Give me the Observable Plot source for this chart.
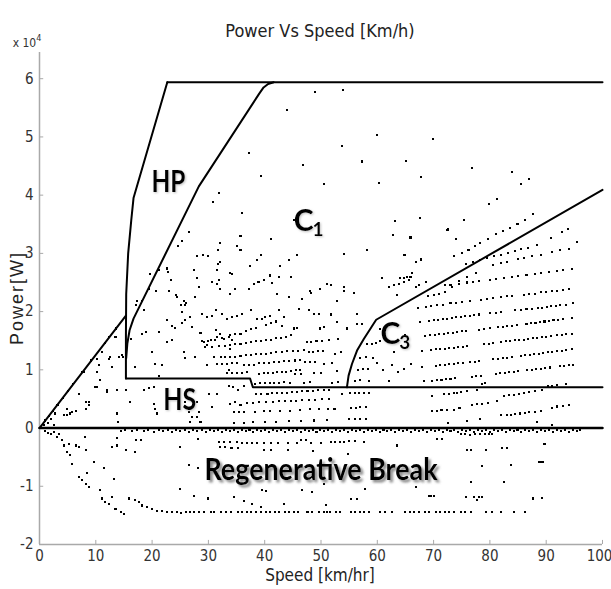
<!DOCTYPE html>
<html><head><meta charset="utf-8">
<script src="https://cdn.jsdelivr.net/npm/d3@7"></script>
<script src="https://cdn.jsdelivr.net/npm/@observablehq/plot@0.6"></script>
<style>body{margin:0;background:#fff}#chart{width:611px;height:589px}</style>
</head><body><div id="chart"></div>
<script>
// ---------- tick labels ----------
const xTicks = [0,10,20,30,40,50,60,70,80,90,100];
const yTicks = [-2,-1,0,1,2,3,4,5,6];   // power in units of 1e4 W

// ---------- region boundary curves [speed km/h, power x1e4 W] ----------
const topBoundary = [[22.7,5.94],[100,5.94]];
const hpBoundary = [[22.7,5.94],[16.7,3.95],[16.3,3.57],[15.75,3.0],[15.4,2.3],[15.35,1.6],[15.35,0.85]];
const c1Boundary = [[41.6,5.94],[40.6,5.91],[39.8,5.85],[39.0,5.74],[28.3,4.15],[16.7,1.88],[16.0,1.68],[15.6,1.45],[15.4,1.2]];
const diagBoundary = [[0,0],[15.35,1.93]];
const hsBoundary = [[15.35,0.85],[37.4,0.85],[37.9,0.70],[100,0.70]];
const zeroBoundary = [[0,0],[100,0]];
const c3Boundary = [[54.6,0.70],[54.9,0.9],[55.5,1.1],[56.4,1.33],[57.6,1.53],[59.0,1.74],[59.8,1.86],[100,4.09]];

// ---------- operating points [speed km/h, power x1e4 W] ----------
const upperPts = [[49.0,5.77],[53.9,5.80],[43.9,5.46],[60.0,5.03],[69.9,4.97],[37.2,4.73],[53.8,4.84],[46.8,4.52],[57.3,4.58],[65.1,4.59],[76.9,4.46],[84.0,4.39],[86.9,4.28],[85.6,4.19],[39.4,4.33],[50.5,4.19],[60.3,4.21],[67.7,4.31],[31.9,4.04],[30.8,3.89],[36.0,3.70],[45.2,3.57],[35.7,3.30],[41.2,3.25],[63.1,3.56],[67.5,3.61],[75.4,3.58],[62.8,3.32],[65.9,3.28],[72.5,3.41],[79.9,3.85],[81.3,3.93],[57.3,4.57],[74.0,3.24],[58.2,3.05],[64.7,2.97],[67.7,2.88],[66.8,2.85],[54.1,2.99],[65.0,2.97],[66.8,2.85],[67.8,2.91],[90.8,3.26],[92.8,3.37],[93.9,3.42],[95.5,3.19]];
const c1Cloud = [[25.3,3.22],[26.5,3.37],[24.6,3.13],[32.1,3.18],[31.7,3.05],[27.9,2.95],[29.1,2.98],[29.9,2.95],[31.7,2.82],[32.1,2.85],[27.4,2.71],[34.2,2.65],[21.2,2.71],[22.6,2.74],[22.9,2.68],[23.3,2.55],[20.7,2.35],[23.0,2.36],[24.5,2.25],[25.6,2.19],[25.8,2.12],[25.3,1.99],[27.6,2.25],[28.3,2.43],[27.9,2.57],[30.7,2.51],[31.6,2.48],[32.1,2.39],[31.6,2.71],[31.8,2.54],[33.9,2.31],[17.4,2.19],[18.2,2.19],[17.1,2.11],[18.5,2.02],[19.4,2.39],[19.7,2.65],[22.6,1.85],[23.6,1.76],[24.0,1.72],[25.3,1.80],[25.9,1.85],[27.1,1.73],[26.7,1.90],[28.9,1.96],[29.8,1.91],[30.7,1.93],[31.3,2.02],[32.4,1.96],[33.3,1.88],[31.3,1.69],[32.1,1.62],[31.6,1.56],[30.4,1.51],[28.6,1.64],[29.2,1.48],[29.8,1.42],[32.7,1.53],[33.6,1.56],[34.2,1.51],[33.9,1.36],[18.2,1.62],[18.9,1.65],[21.2,1.65],[22.6,1.48],[23.5,1.51],[20.0,1.30],[20.6,1.10],[21.8,1.09],[25.6,1.30],[25.8,1.21],[27.7,1.22],[29.8,1.08],[16.9,1.05],[16.3,1.53],[21.2,0.90],[33.6,0.99],[24.2,2.28],[26.0,2.14],[25.1,2.11],[35.1,3.12],[35.7,3.05],[39.4,2.97],[38.7,2.89],[37.4,2.79],[45.8,2.98],[44.3,2.88],[42.8,2.78],[33.9,2.67],[41.0,2.62],[42.5,2.59],[39.8,2.54],[38.9,2.51],[38.1,2.48],[37.2,2.39],[44.6,2.59],[34.8,2.38],[41.3,2.49],[42.2,2.31],[44.3,2.25],[46.7,2.22],[48.1,2.36],[49.9,2.39],[51.7,2.45],[54.1,2.43],[55.8,2.32],[52.8,2.19],[48.3,2.32],[51.1,2.48],[37.5,2.02],[36.0,1.96],[35.1,1.93],[34.2,1.90],[42.5,2.02],[41.0,1.93],[40.1,1.90],[39.6,1.88],[38.7,1.88],[46.1,2.05],[47.8,2.02],[48.7,1.96],[49.6,1.96],[51.7,1.95],[43.4,1.91],[43.1,1.75],[45.8,1.72],[45.2,1.71],[49.9,1.71],[50.5,1.73],[52.9,1.82],[54.7,1.71],[56.4,1.96],[56.4,1.79],[57.3,1.79],[60.9,2.57],[62.0,2.42],[62.9,2.45],[63.8,2.48],[64.7,2.51],[65.6,2.54],[65.9,2.59],[63.5,2.28],[66.8,2.42],[67.4,2.45],[65.9,3.27],[72.4,3.40],[64.1,2.57],[64.7,2.58],[65.3,2.60],[66.2,2.66],[68.6,2.51],[54.1,2.36]];
const c1Rows = [[33.9,1.59],[34.8,1.61],[35.7,1.62],[36.6,1.66],[37.5,1.70],[38.4,1.72],[40.2,1.77],[41.1,1.80],[42.0,1.83],[43.4,1.91],
[33.9,1.42],[34.8,1.44],[35.7,1.45],[36.6,1.46],[37.5,1.48],[38.4,1.49],[39.3,1.49],[40.2,1.52],[41.1,1.52],[42.0,1.55],[42.9,1.55],[43.7,1.57],[44.6,1.59],
[33.9,1.22],[34.8,1.22],[35.7,1.24],[36.6,1.25],[37.5,1.25],[38.4,1.27],[39.3,1.27],[40.2,1.28],[41.1,1.29],[42.0,1.30],[43.0,1.31],[44.0,1.32],[45.0,1.32],[46.0,1.33],[46.9,1.34],
[36.3,1.08],[37.2,1.09],[38.1,1.09],[39.0,1.11],[39.9,1.12],[40.8,1.12],[41.7,1.13],[42.6,1.14],[43.5,1.15],[44.4,1.15],[45.4,1.16],[46.3,1.17],
[39.0,0.93],[39.8,0.94],[40.6,0.95],[41.4,0.95],[42.2,0.96],[43.0,0.97],[43.8,0.97],[44.6,0.98],[45.5,0.99],[46.3,0.99],
[38.3,0.76],[39.2,0.77],[40.0,0.77],[40.9,0.78],[41.7,0.78],[42.6,0.78],[43.4,0.79],
[28.8,1.50],[30.0,1.50],[31.2,1.52],[32.4,1.55],[29.4,1.40],[30.6,1.40],[31.8,1.41],[32.9,1.41],[31.0,1.22],[32.2,1.22],[33.0,1.22],
[31.5,1.10],[32.5,1.10],[33.3,1.10],[34.2,1.11],[35.1,1.11],[33.3,0.94],[34.2,0.94],[35.1,0.95],[36.0,0.95],[36.9,0.96],
[47.5,1.47],[48.3,1.48],[49.2,1.49],[50.1,1.50],[51.5,1.52],[53.0,1.53],[47.8,1.31],[48.6,1.31],[49.5,1.32],[50.3,1.33],[52.5,1.28],[53.5,1.30],
[47.2,1.13],[48.0,1.14],[48.9,1.14],[50.5,1.10],[52.0,1.12],[45.3,0.93],[46.5,0.93],[48.8,0.95],[50.0,0.95],[52.8,0.98],
[44.5,0.77],[47.0,0.78],[48.0,0.79],[51.9,0.78],[53.0,0.79]];
const aboveC3Rows = [[73.6,2.95],[75.0,3.00],[76.2,3.05],[77.4,3.12],[78.3,3.18],[79.6,3.25],[81.0,3.33],[82.4,3.39],[83.6,3.44],[84.9,3.51],[86.2,3.58],[87.6,3.68],
[75.7,2.82],[77.0,2.86],[78.3,2.89],[79.5,2.92],[80.8,2.95],[82.0,2.98],[83.2,3.01],[84.4,3.04],[85.6,3.07],[86.8,3.10],[88.4,3.15],
[69.0,2.26],[70.0,2.28],[71.0,2.31],[72.0,2.33],[73.2,2.42],[74.5,2.52],[76.0,2.60],[77.5,2.66]];
const c3Rows = [[68.3,0.80],[69.8,0.81],[70.6,0.82],[71.4,0.83],[72.2,0.84],[73.0,0.85],[73.8,0.86],[76.8,0.88],[77.6,0.89],[78.4,0.90],[81.0,0.93],[81.8,0.94],[82.6,0.95],[83.4,0.96],[84.2,0.97],[85.0,0.98],[86.6,0.99],[87.4,1.00],[88.2,1.01],[89.0,1.02],[89.8,1.03],[90.6,1.04],[92.4,1.06],[93.2,1.07],[94.0,1.08],[94.8,1.09],
[68.0,1.05],[70.4,1.07],[71.2,1.08],[72.0,1.09],[72.8,1.10],[73.6,1.10],[74.4,1.11],[75.2,1.12],[76.5,1.13],[77.3,1.14],[78.1,1.15],[80.5,1.18],[81.5,1.19],[82.3,1.20],[83.1,1.21],[83.9,1.22],[85.5,1.24],[86.3,1.25],[87.1,1.26],[87.9,1.27],[88.7,1.28],[89.5,1.29],[90.3,1.30],[91.1,1.31],[92.0,1.32],[92.8,1.33],[93.6,1.34],[94.6,1.35],
[68.0,1.32],[69.6,1.34],[70.4,1.35],[71.2,1.35],[72.0,1.36],[72.8,1.37],[73.6,1.38],[74.4,1.39],[75.2,1.40],[76.0,1.41],[79.0,1.44],[79.8,1.45],[80.6,1.46],[82.0,1.48],[82.8,1.49],[83.6,1.50],[84.4,1.51],[85.2,1.51],[86.0,1.52],[86.8,1.53],[87.6,1.54],[88.4,1.55],[89.2,1.56],[90.0,1.57],[90.8,1.58],[92.0,1.59],[92.8,1.60],[93.6,1.61],[94.6,1.62],
[68.4,1.58],[69.4,1.59],[70.2,1.60],[71.0,1.61],[71.8,1.62],[72.6,1.63],[73.4,1.64],[74.2,1.65],[75.0,1.66],[75.8,1.67],[78.0,1.69],[79.0,1.70],[80.0,1.72],[81.5,1.73],[82.3,1.74],[83.1,1.75],[84.0,1.76],[84.8,1.77],[86.5,1.79],[87.3,1.80],[88.1,1.81],[88.9,1.82],[89.7,1.83],[90.5,1.84],[91.3,1.85],[92.1,1.86],[93.0,1.87],[94.6,1.89],
[67.6,1.82],[69.2,1.84],[70.0,1.85],[70.8,1.86],[71.6,1.87],[72.4,1.88],[73.2,1.89],[74.0,1.90],[74.8,1.91],[75.6,1.92],[76.4,1.93],[77.2,1.94],[78.0,1.95],[80.0,1.97],[81.0,1.98],[82.0,1.99],[84.5,2.02],[85.5,2.03],[86.5,2.04],[87.5,2.05],[88.5,2.06],[89.3,2.07],[90.1,2.08],[90.9,2.09],[91.7,2.10],[92.5,2.11],[93.5,2.12],[94.8,2.14],
[67.2,2.06],[68.6,2.08],[69.6,2.10],[70.6,2.11],[71.6,2.12],[73.0,2.14],[74.0,2.15],[75.0,2.16],[76.4,2.18],[78.5,2.20],[79.5,2.21],[80.5,2.23],[82.0,2.25],[83.0,2.26],[84.0,2.27],[86.0,2.29],[87.0,2.30],[88.0,2.31],[89.0,2.33],[90.0,2.34],[91.0,2.35],[92.0,2.36],[93.0,2.37],[94.0,2.38],
[72.0,2.45],[73.0,2.46],[74.5,2.48],[76.0,2.50],[77.0,2.51],[78.0,2.52],[80.0,2.55],[81.0,2.56],[82.5,2.58],[84.0,2.60],[85.0,2.61],[86.5,2.63],[88.0,2.65],[89.0,2.66],[90.5,2.68],[92.0,2.70],[93.0,2.71],[94.5,2.73],
[80.5,2.80],[82.0,2.84],[83.0,2.86],[85.0,2.90],[86.0,2.92],[87.5,2.95],[89.0,2.98],[91.0,3.02],[92.5,3.05],[94.0,3.08],
[56.0,0.80],[57.0,0.82],[58.5,0.80],[56.5,1.00],[57.5,1.02],[58.3,1.02],[57.0,1.20],[58.0,1.22],[59.2,1.20],[58.2,1.45],[59.0,1.45],[59.8,1.46],[60.5,1.50],[61.3,1.62],[62.6,1.08],[63.6,0.96],[64.8,1.01],[62.0,0.80],[60.0,1.12],[61.0,1.00],[63.0,1.30],[66.0,1.10],[60.5,1.70],[62.5,1.78],[65.0,1.60]];
const leftPts = [[11.1,1.30],[12.6,1.22],[10.2,1.19],[10.5,1.08],[12.9,1.05],[14.1,1.22],[14.8,1.22],[7.9,0.96],[10.2,0.70],[13.5,1.56],[14.7,1.25],[12.3,1.19],[10.8,0.82],[12.0,0.65],[13.8,0.65],[15.3,0.65],[10.2,0.96],[8.8,0.45],[8.2,0.33],[6.4,0.30],[7.0,0.59],[4.9,0.22],[5.5,0.25],[2.0,0.16],[2.8,0.25],[4.9,0.33],[4.3,0.22],[5.8,0.27],[9.9,0.70],[12.0,0.62],[13.8,0.25],[14.0,0.10],[8.2,0.45],[8.8,0.39],
[1.0,0.13],[1.7,0.20],[2.4,0.30],[3.2,0.40],[4.1,0.52],[5.0,0.63],[5.9,0.75],[7.6,0.96],[9.2,1.16],[11.6,1.46],[12.4,1.56],[13.6,1.71],[0.8,0.05],[1.5,0.08],[2.6,0.05]];
const hsPts = [[16.0,0.45],[18.5,0.65],[19.4,0.68],[20.3,0.70],[20.3,0.42],[20.6,0.33],[20.9,0.25],[26.5,0.27],[26.8,0.10],[28.3,0.27],[30.1,0.59],[31.6,0.59],[30.7,0.36],[25.9,0.45],[27.1,0.19],[28.0,0.45],[28.0,0.19],[28.6,0.10],[33.7,0.72],[34.4,0.70],[35.3,0.66],[36.3,0.72],[33.9,0.42],[34.8,0.45],[35.7,0.40],[36.9,0.43],[34.5,0.27],[35.4,0.27],[36.3,0.27],[34.5,0.08],[36.3,0.08],
[38.5,0.58],[39.4,0.59],[40.5,0.59],[41.3,0.60],[42.2,0.60],[43.0,0.61],[44.0,0.61],[44.8,0.62],[45.8,0.62],[46.7,0.63],[47.6,0.64],[48.6,0.64],[49.5,0.65],[50.5,0.65],[51.5,0.66],
[38.0,0.43],[39.0,0.44],[40.2,0.44],[41.5,0.45],[42.6,0.46],[43.6,0.46],[44.6,0.47],[45.6,0.47],[46.6,0.48],[47.8,0.49],[49.0,0.49],[50.2,0.50],[51.4,0.50],
[38.3,0.28],[39.8,0.29],[41.0,0.29],[42.8,0.30],[44.5,0.30],[46.3,0.31],[48.0,0.32],[49.6,0.32],[51.2,0.33],
[38.0,0.10],[40.0,0.11],[42.0,0.11],[44.3,0.12],[46.5,0.12],[48.8,0.13],[51.0,0.14],
[53.8,0.58],[55.2,0.60],[56.0,0.60],[56.8,0.60],[57.7,0.61],[58.6,0.61],[52.4,0.32],[55.3,0.35],[56.2,0.35],[57.0,0.36],[58.0,0.36],[55.0,0.15],[56.0,0.15],[57.0,0.16],[58.0,0.16],
[69.8,0.55],[71.8,0.58],[72.7,0.59],[73.6,0.60],[74.2,0.61],[74.8,0.62],[76.0,0.64],[77.7,0.66],[78.6,0.76],[79.2,0.77],
[82.5,0.55],[83.4,0.56],[84.2,0.57],[85.1,0.58],[86.0,0.60],[87.0,0.62],[88.0,0.63],[89.2,0.66],[90.4,0.72],[91.0,0.73],[92.0,0.74],[93.5,0.76],
[69.8,0.30],[70.6,0.30],[71.4,0.31],[72.4,0.31],[73.6,0.31],[74.6,0.35],[76.8,0.40],[77.7,0.41],[78.6,0.42],[79.6,0.43],[81.3,0.47],
[82.0,0.22],[83.0,0.23],[83.8,0.23],[84.5,0.24],[85.3,0.25],[86.2,0.26],[87.0,0.27],[88.0,0.28],[89.0,0.29],[91.0,0.35],[92.0,0.37],[93.0,0.38],[94.0,0.39],
[72.6,0.08],[76.0,0.12],[78.2,0.16],[88.3,0.10],[91.0,0.06]];
const zeroBand = [[14.4,-0.05],[15.2,-0.04],[16.4,-0.05],[17.4,-0.04],[18.5,-0.05],[19.3,-0.04],[20.4,-0.06],[21.2,-0.04],[22.0,-0.05],[22.8,-0.04],[23.6,-0.06],[24.3,-0.04],[25.0,-0.05],[25.8,-0.04],[26.6,-0.06],[27.3,-0.04],[28.0,-0.05],[28.8,-0.04],[29.5,-0.06],[30.2,-0.04],[31.0,-0.05],[31.7,-0.04],[32.4,-0.06],[33.1,-0.04],[33.8,-0.05],[34.5,-0.04],[35.2,-0.06],[35.9,-0.04],[36.6,-0.05],[37.3,-0.04],[38.0,-0.06],[38.7,-0.04],[39.4,-0.05],[40.1,-0.04],[40.8,-0.06],[41.5,-0.04],[42.2,-0.05],[42.9,-0.04],[43.6,-0.06],[44.3,-0.04],[45.0,-0.05],[45.7,-0.04],[46.4,-0.06],[47.1,-0.04],[47.8,-0.05],[48.5,-0.04],[49.2,-0.06],[49.9,-0.04],[50.6,-0.05],[51.3,-0.04],[52.0,-0.06],[52.7,-0.04],[53.4,-0.05],[54.1,-0.04],[54.8,-0.06],[55.5,-0.04],[56.2,-0.05],[56.9,-0.04],[57.6,-0.06],[58.3,-0.04],[59.0,-0.05],[59.7,-0.04],[60.4,-0.06],[61.1,-0.04],[61.8,-0.05],[62.5,-0.04],[63.2,-0.06],[63.9,-0.04],[64.6,-0.05],[65.3,-0.04],[66.0,-0.06],[66.7,-0.04],[67.4,-0.05],[68.1,-0.04],[68.8,-0.06],[69.5,-0.04],[70.2,-0.05],[70.9,-0.04],[71.6,-0.06],[72.3,-0.04],[73.0,-0.05],[73.7,-0.04],[74.4,-0.06],[75.1,-0.04],[75.8,-0.05],[76.5,-0.04],[77.2,-0.06],[77.9,-0.04],[78.6,-0.05],[79.3,-0.04],[80.0,-0.06],[80.7,-0.04],[81.4,-0.05],[82.1,-0.04],[82.8,-0.06],[83.5,-0.04],[84.2,-0.05],[84.9,-0.04],[85.6,-0.06],[86.3,-0.04],[87.0,-0.05],[87.7,-0.04],[88.4,-0.06],[89.1,-0.04],[89.8,-0.05],[90.5,-0.04],[91.2,-0.06],[91.9,-0.04],[92.6,-0.05],[93.3,-0.04],[94.0,-0.06],[94.7,-0.04],[95.4,-0.05],[96.0,-0.04]];
const arcPts = [[2.0,-0.10],[3.1,-0.16],[4.0,-0.21],[4.3,-0.30],[5.2,-0.27],[4.9,-0.41],[5.5,-0.47],[6.4,-0.30],[7.0,-0.33],[8.2,-0.38],[5.7,-0.61],[7.0,-0.84],[7.6,-0.90],[8.2,-0.96],[8.8,-1.02],[9.6,-0.59],[8.5,-0.77],[10.8,-1.07],[11.1,-1.21],[11.7,-1.27],[12.3,-1.31],[13.5,-1.39],[14.4,-1.44],[15.0,-1.47],[12.9,-1.19],[11.4,-0.68],[13.2,-0.87],[8.0,-0.16],[13.8,-0.17],[13.8,-0.30],[12.9,-0.33],[15.3,-0.37],[17.1,-0.21],[18.1,-0.21],[16.9,-0.41],[15.9,-1.21],[17.0,-1.24],[17.6,-1.27],[18.2,-1.33],[19.1,-1.36],[20.0,-1.39],[20.9,-1.42],[21.8,-1.43],[22.7,-1.45],[23.6,-1.45],[1.0,-0.05],[1.5,-0.08],[2.6,-0.06],[3.5,-0.10]];
const flatPts = [[24.4,-1.45],[25.2,-1.46],[26.0,-1.45],[26.8,-1.44],[27.5,-1.45],[28.4,-1.45],[29.3,-1.45],[30.4,-1.44],[31.0,-1.45],[32.3,-1.45],[33.1,-1.45],[34.0,-1.45],[35.2,-1.45],[36.0,-1.45],[36.8,-1.45],[37.6,-1.45],[38.4,-1.45],[39.4,-1.45],[40.2,-1.45],[41.0,-1.45],[41.8,-1.45],[42.6,-1.45],[43.6,-1.45],[44.4,-1.45],[45.2,-1.45],[46.0,-1.45],[47.6,-1.45],[48.4,-1.45],[49.6,-1.45],[50.5,-1.45],[51.0,-1.44],[51.6,-1.45],[52.6,-1.45],[53.4,-1.45],[55.3,-1.45],[56.1,-1.45],[56.9,-1.45],[57.7,-1.45],[58.5,-1.45],[60.4,-1.45],[61.3,-1.45],[62.6,-1.45],[65.0,-1.45],[65.8,-1.45],[66.6,-1.45],[67.4,-1.45],[68.4,-1.45],[69.2,-1.45],[70.4,-1.44],[71.2,-1.45],[72.0,-1.45],[72.8,-1.45],[73.6,-1.45],[74.8,-1.45],[75.6,-1.45],[76.6,-1.45],[79.3,-1.45],[80.3,-1.45],[82.0,-1.45],[84.2,-1.45],[86.2,-1.45]];
const regenPts = [[25.0,-1.04],[27.4,-1.16],[29.9,-1.21],[34.5,-1.19],[36.3,-1.26],[37.8,-1.30],[39.3,-1.35],[39.5,-1.07],[40.2,-1.08],[43.4,-1.30],[46.7,-1.07],[48.4,-1.10],[26.5,-0.64],[28.1,-0.68],[25.0,-0.32],[28.1,-0.18],[31.8,-0.24],[32.7,-0.24],[33.9,-0.24],[35.1,-0.24],[36.0,-0.25],[36.9,-0.25],[37.8,-0.25],[38.7,-0.25],[39.9,-0.25],[41.1,-0.25],[42.3,-0.25],[44.1,-0.25],[45.8,-0.25],[48.2,-0.25],[50.0,-0.25],[32.0,-0.33],[32.9,-0.33],[34.1,-0.34],[35.3,-0.34],[39.9,-0.38],[41.1,-0.38],[44.1,-0.38],[48.5,-0.40],[51.7,-0.24],[52.5,-0.24],[53.3,-0.24],[54.0,-0.24],[57.6,-0.24],[63.5,-0.30],[70.6,-0.18],[71.5,-0.18],[74.8,-0.11],[75.6,-0.11],[76.5,-0.12],[77.3,-0.11],[78.2,-0.11],[79.1,-0.11],[79.9,-0.10],[80.4,-0.11],[76.0,-0.38],[76.7,-0.38],[79.3,-0.37],[82.2,-0.35],[83.0,-0.35],[89.7,-0.27],[78.6,-0.65],[83.7,-0.63],[88.7,-0.59],[89.0,-0.59],[89.4,-0.59],[76.6,-0.93],[82.5,-0.92],[66.8,-1.02],[57.9,-1.04],[50.6,-0.96],[54.8,-0.44],[55.4,-1.22],[56.4,-1.22],[69.1,-1.16],[69.5,-1.16],[70.0,-1.16],[75.7,-1.19],[77.1,-1.19],[78.0,-1.19],[78.6,-1.19],[77.7,-1.24],[87.6,-1.21],[89.3,-1.20],[50.9,-1.32],[46.4,-0.20],[47.4,-0.21],[55.0,-0.22],[56.0,-0.22]];

// ---------- region labels ----------
const regionLabels = [
  {text:"HP", sub:"",  x:22.9, y:4.22, w:34},
  {text:"C",  sub:"1", x:47.8, y:3.55, w:0},
  {text:"C",  sub:"3", x:63.2, y:1.61, w:0},
  {text:"HS", sub:"",  x:24.9, y:0.47, w:33}
];
const bigLabel = [{text:"Regenerative Break", x:50.0, y:-0.72}];

const P = a => a.map(([x,y]) => ({x, y}));
const points = [upperPts,c1Cloud,c1Rows,aboveC3Rows,c3Rows,leftPts,hsPts,zeroBand,arcPts,flatPts,regenPts].flatMap(P);
const boundaries = [topBoundary,hpBoundary,c1Boundary,diagBoundary,hsBoundary,c3Boundary];

const NARROW = "'Liberation Sans Narrow','Arial Narrow','DejaVu Sans Condensed',sans-serif";
const BOLD = "Lato, 'Open Sans', sans-serif";
const axisGrey = "#a9a9a9";

const chart = Plot.plot({
  width: 611, height: 589,
  marginLeft: 39, marginRight: 9, marginTop: 52, marginBottom: 45,
  x: {domain: [0, 100]},
  y: {domain: [-2, 6.45]},
  style: {background: "#fff", fontFamily: NARROW, fontSize: "15px", color: "#333", overflow: "visible"},
  marks: [
    Plot.ruleY([-2], {x1: 0, x2: 100, stroke: axisGrey, strokeWidth: 1.5}),
    Plot.ruleX([0], {y1: -2, y2: 6.45, stroke: axisGrey, strokeWidth: 1.5}),
    Plot.ruleX(xTicks, {y1: -2, y2: -1.93, stroke: axisGrey}),
    Plot.ruleY(yTicks, {x1: 0, x2: 0.75, stroke: axisGrey}),
    Plot.axisX(xTicks, {tickSize: 0, tickPadding: 6, label: null, fill: "#333", fontSize: 15, tickFormat: d => String(d)}),
    Plot.axisY(yTicks, {tickSize: 0, tickPadding: 6, label: null, fill: "#333", fontSize: 15, tickFormat: d => String(d)}),
    Plot.dot(points, {x: "x", y: "y", r: 1.15, symbol: "square", fill: "black", stroke: null, className: "pts"}),
    ...boundaries.map(b => Plot.line(b, {x: d => d[0], y: d => d[1], stroke: "black", strokeWidth: 2})),
    Plot.line(zeroBoundary, {x: d => d[0], y: d => d[1], stroke: "black", strokeWidth: 2.5}),
    Plot.text(regionLabels, {x: "x", y: "y", text: "text", fontFamily: BOLD, fontWeight: "bold", fontSize: 30, fill: "black", className: "rlab"}),
    Plot.text(bigLabel, {x: "x", y: "y", text: "text", fontFamily: BOLD, fontWeight: "bold", fontSize: 30, fill: "black", className: "regen"})
  ]
});

const svg = d3.select(chart);
const defs = svg.insert("defs", ":first-child");
const f = defs.append("filter").attr("id", "shadow").attr("x", "-10%").attr("y", "-30%").attr("width", "130%").attr("height", "180%");
f.append("feDropShadow").attr("dx", 2.5).attr("dy", 2.5).attr("stdDeviation", 1.3).attr("flood-color", "#777").attr("flood-opacity", 0.85);
const f2 = defs.append("filter").attr("id", "halo").attr("x", "-20%").attr("y", "-30%").attr("width", "150%").attr("height", "170%");
f2.append("feDropShadow").attr("dx", 1).attr("dy", 1).attr("stdDeviation", 1).attr("flood-color", "#999").attr("flood-opacity", 0.6);

svg.selectAll("g.pts path").attr("shape-rendering", "crispEdges");
svg.selectAll("g.regen text").attr("textLength", 233).attr("lengthAdjust", "spacingAndGlyphs").attr("filter", "url(#shadow)");
svg.selectAll("g.rlab text").each(function(d) {
  const lab = regionLabels[d];
  const t = d3.select(this).attr("filter", "url(#halo)");
  if (!lab) return;
  if (lab.w) t.attr("textLength", lab.w).attr("lengthAdjust", "spacingAndGlyphs");
  if (lab.sub) {
    t.append("tspan").attr("dy", "0.28em").attr("dx", "-1").style("font-size", "19px").text(lab.sub);
  }
});
// keep the clipped last x tick label inside the picture
svg.selectAll("g[aria-label='x-axis tick label'] text").filter(function() { return this.textContent === "100"; })
  .attr("dx", -3);

// titles
svg.append("text").attr("x", 320).attr("y", 37).attr("text-anchor", "middle")
  .style("font-family", NARROW).style("font-size", "18px").attr("fill", "#222").text("Power Vs Speed [Km/h)");
const ex = svg.append("text").attr("x", 27).attr("y", 47).style("font-family", NARROW).style("font-size", "12px").attr("fill", "#333");
ex.append("tspan").text("x 10");
ex.append("tspan").attr("dy", -6).style("font-size", "9px").text("4");
svg.append("text").attr("x", 320).attr("y", 581).attr("text-anchor", "middle")
  .style("font-family", NARROW).style("font-size", "17px").attr("fill", "#222").text("Speed [km/hr]");
svg.append("text").attr("transform", "translate(23,298) rotate(-90)").attr("text-anchor", "middle")
  .style("font-family", "'Liberation Sans', Arial, sans-serif").style("font-size", "18px").style("letter-spacing", "2px").attr("fill", "#222").text("Power[W]");

document.getElementById("chart").appendChild(chart);
</script>
</body></html>
